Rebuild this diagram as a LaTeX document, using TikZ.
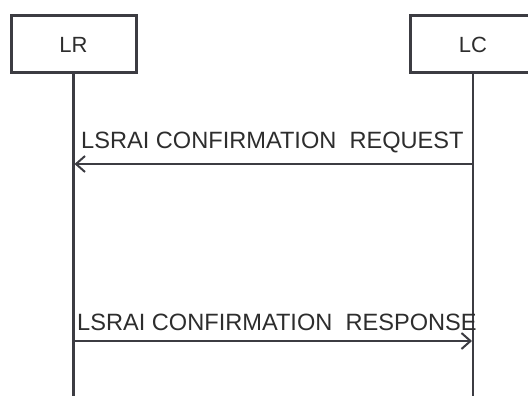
\documentclass[tikz,border=0pt]{standalone}
\usepackage{fontspec}
\setmainfont{Liberation Sans}
\usetikzlibrary{arrows.meta, positioning, calc}
\definecolor{linecolor}{RGB}{60,60,66}
\definecolor{textcolor}{RGB}{45,45,45}

\begin{document}
\begin{tikzpicture}[
    x=1pt, y=-1pt,
    entity/.style={rectangle, draw=linecolor, line width=3pt, minimum width=125pt, minimum height=57pt, inner sep=0pt, text=textcolor, font=\fontsize{22}{26}\selectfont},
    lifeline/.style={draw=linecolor, line width=2.2pt},
    msg/.style={-{Straight Barb[length=9pt, width=16pt, line width=2pt]}, line width=2.2pt, draw=linecolor},
    label/.style={text=textcolor, font=\fontsize{23.6}{28}\selectfont, inner sep=0pt, anchor=base west}
]
    % Frame
    \useasboundingbox (0,0) rectangle (528,396);
    \clip (0,0) rectangle (528,396);

    % Entities
    \node[entity] (lr) at (73.5,44.5) {LR};
    \node[entity] (lc) at (473,44.5) {LC};

    % Lifelines
    \coordinate (lrend) at (73.5,400);
    \coordinate (lcend) at (473,400);
    \draw[lifeline] (lr.south) -- (lrend);
    \draw[lifeline] (lc.south) -- (lcend);

    % Messages
    \coordinate (req) at (473,164);
    \coordinate (reqto) at (74.5,164);
    \draw[msg] (req) -- (reqto);
    \node[label] (reqlabel) at (81,149) {LSRAI CONFIRMATION\ \ REQUEST};

    \coordinate (resp) at (73.5,341);
    \coordinate (respto) at (472,341);
    \draw[msg] (resp) -- (respto);
    \node[label] (resplabel) at (77,330) {LSRAI CONFIRMATION\ \ RESPONSE};

\end{tikzpicture}
\end{document}
